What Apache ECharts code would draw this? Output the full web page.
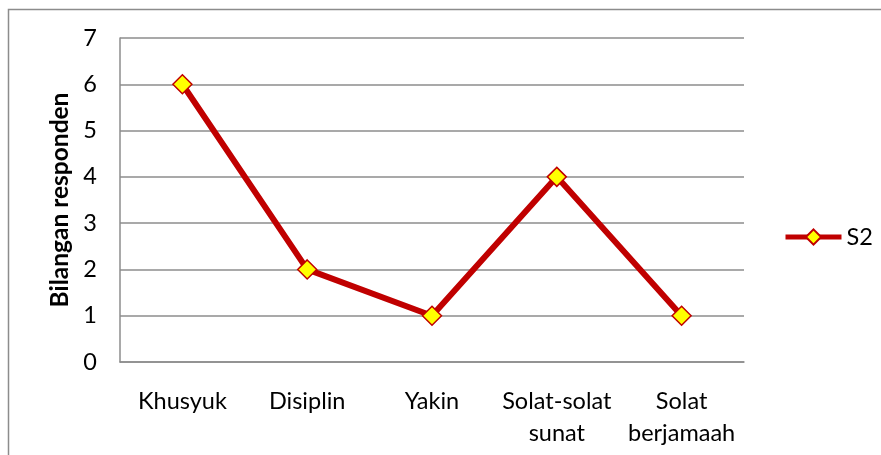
<!DOCTYPE html>
<html>
<head>
<meta charset="utf-8">
<script src="https://cdn.jsdelivr.net/npm/echarts@6/dist/echarts.min.js"></script>
<style>
  html, body { margin: 0; padding: 0; background: #fff; }
  #main { width: 881px; height: 455px; }
</style>
</head>
<body>
<div id="main"></div>
<script>
var categories = ['Khusyuk', 'Disiplin', 'Yakin', 'Solat-solat\nsunat', 'Solat\nberjamaah'];
var s2Values = [6, 2, 1, 4, 1];
var seriesName = 'S2';
var yAxisTitle = 'Bilangan responden';

var chart = echarts.init(document.getElementById('main'));
var font = 'Lato, "Liberation Sans", sans-serif';
var gray = '#8c8c8c';

var option = {
    animation: false,
    textStyle: { fontFamily: font },
    graphic: [{
        type: 'rect',
        shape: { x: 8.5, y: 9.5, width: 1000, height: 600 },
        style: { fill: null, stroke: gray, lineWidth: 1.5 },
        silent: true
    }],
    grid: { left: 120, right: 137, top: 38, bottom: 93 },
    legend: {
        left: 783,
        top: 225,
        padding: 0,
        itemWidth: 56,
        itemHeight: 19,
        itemGap: 5,
        lineStyle: { width: 5, color: '#c00000' },
        textStyle: { fontFamily: font, fontSize: 23.5, color: '#000' },
        data: [seriesName]
    },
    xAxis: {
        type: 'category',
        data: categories,
        boundaryGap: true,
        axisLine: { lineStyle: { color: gray, width: 1.5 } },
        axisTick: { show: false },
        axisLabel: {
            color: '#000',
            fontSize: 23.5,
            fontFamily: font,
            margin: 23,
            lineHeight: 32,
            interval: 0
        }
    },
    yAxis: {
        type: 'value',
        min: 0,
        max: 7,
        interval: 1,
        name: yAxisTitle,
        nameLocation: 'middle',
        nameRotate: 90,
        nameGap: 46,
        nameTextStyle: { fontSize: 24.5, fontWeight: 'bold', color: '#000', fontFamily: font },
        axisLine: { show: true, lineStyle: { color: gray, width: 1.5 } },
        axisTick: { show: false },
        splitLine: { lineStyle: { color: gray, width: 1.5 } },
        axisLabel: { color: '#000', fontSize: 23.5, fontFamily: font, margin: 23 }
    },
    series: [{
        name: seriesName,
        type: 'line',
        data: s2Values,
        symbol: 'diamond',
        symbolSize: 19,
        lineStyle: { color: '#c00000', width: 6 },
        itemStyle: { color: '#ffff00', borderColor: '#c00000', borderWidth: 1.5 }
    }]
};
chart.setOption(option);
</script>
</body>
</html>
